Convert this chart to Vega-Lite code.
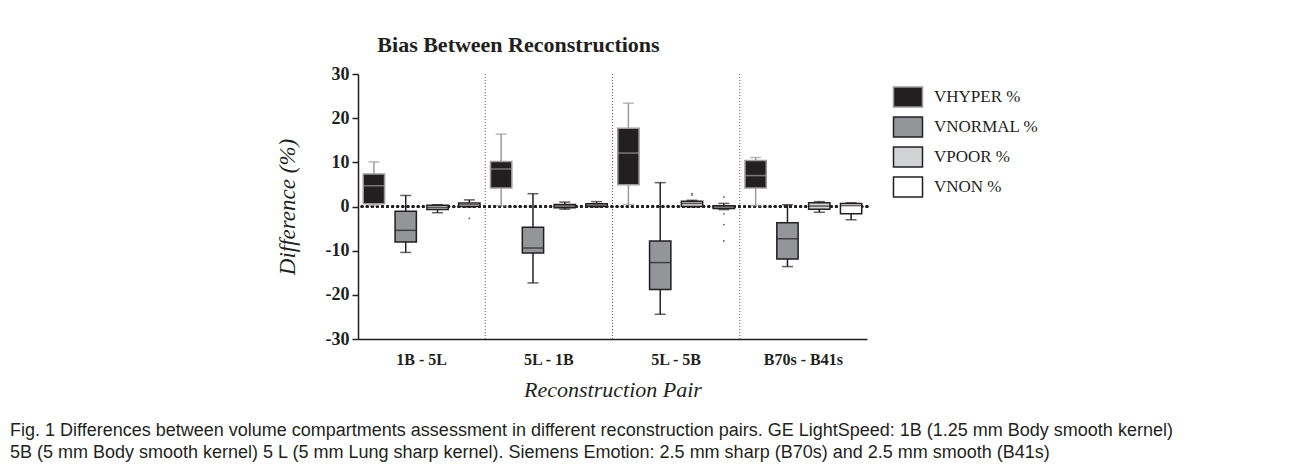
{
  "$schema": "https://vega.github.io/schema/vega-lite/v6.json",
  "background": "white",
  "padding": {"left": 10, "top": 34, "right": 5, "bottom": 5},
  "config": {
    "font": "Liberation Serif",
    "view": {"stroke": null},
    "axisX": {"domainColor": "#231f20", "domainWidth": 1.5, "ticks": false, "grid": false, "labelAngle": 0, "labelFont": "Liberation Serif", "labelFontWeight": "bold", "labelFontSize": 16, "labelColor": "#231f20", "labelPadding": 12, "titleFont": "Liberation Serif", "titleFontStyle": "italic", "titleFontWeight": "normal", "titleFontSize": 22, "titleColor": "#231f20", "titlePadding": 12},
    "axisY": {"domainColor": "#231f20", "domainWidth": 1.5, "tickColor": "#231f20", "tickWidth": 1.5, "tickSize": 6, "grid": false, "labelFont": "Liberation Serif", "labelFontWeight": "bold", "labelFontSize": 18, "labelColor": "#231f20", "labelPadding": 3, "titleFont": "Liberation Serif", "titleFontStyle": "italic", "titleFontWeight": "normal", "titleFontSize": 23, "titleColor": "#231f20", "titlePadding": 26}
  },
  "title": {
    "text": ["Fig. 1 Differences between volume compartments assessment in different reconstruction pairs. GE LightSpeed: 1B (1.25 mm Body smooth kernel)", "5B (5 mm Body smooth kernel) 5 L (5 mm Lung sharp kernel). Siemens Emotion: 2.5 mm sharp (B70s) and 2.5 mm smooth (B41s)"],
    "orient": "bottom", "anchor": "start", "dx": -266, "offset": 22,
    "font": "Liberation Sans", "fontSize": 18, "fontWeight": "normal", "lineHeight": 22, "color": "#231f20"
  },
  "datasets": {
    "boxes": [
      {"group": "1B - 5L", "comp": "HYPER", "kind": "HYPER", "min": 0.3, "q1": 0.6, "median": 4.7, "q3": 7.35, "max": 10.1},
      {"group": "1B - 5L", "comp": "NORMAL", "kind": "NORMAL", "min": -10.4, "q1": -8.05, "median": -5.4, "q3": -1.05, "max": 2.5},
      {"group": "1B - 5L", "comp": "POOR", "kind": "POOR", "min": -1.4, "q1": -0.7, "median": -0.2, "q3": 0.3, "max": 0.4},
      {"group": "1B - 5L", "comp": "NON", "kind": "NON", "min": -0.1, "q1": 0.0, "median": 0.4, "q3": 0.77, "max": 1.5},
      {"group": "5L - 1B", "comp": "HYPER", "kind": "HYPER", "min": 0.2, "q1": 4.2, "median": 8.5, "q3": 10.2, "max": 16.4},
      {"group": "5L - 1B", "comp": "NORMAL", "kind": "NORMAL", "min": -17.3, "q1": -10.5, "median": -9.4, "q3": -4.7, "max": 2.9},
      {"group": "5L - 1B", "comp": "POOR", "kind": "POOR", "min": -0.6, "q1": -0.3, "median": 0.1, "q3": 0.45, "max": 1.0},
      {"group": "5L - 1B", "comp": "NON", "kind": "NON", "min": -0.1, "q1": 0.0, "median": 0.3, "q3": 0.6, "max": 1.1},
      {"group": "5L - 5B", "comp": "HYPER", "kind": "HYPER", "min": 0.45, "q1": 4.9, "median": 12.1, "q3": 17.7, "max": 23.4},
      {"group": "5L - 5B", "comp": "NORMAL", "kind": "NORMAL", "min": -24.4, "q1": -18.8, "median": -12.7, "q3": -7.8, "max": 5.4},
      {"group": "5L - 5B", "comp": "POOR", "kind": "POOR", "min": -0.1, "q1": 0.0, "median": 0.7, "q3": 1.2, "max": 1.4},
      {"group": "5L - 5B", "comp": "NON", "kind": "NON", "min": -0.7, "q1": -0.45, "median": -0.1, "q3": 0.15, "max": 0.7},
      {"group": "B70s - B41s", "comp": "HYPER", "kind": "HYPER", "min": 0.2, "q1": 4.2, "median": 7.0, "q3": 10.4, "max": 11.1},
      {"group": "B70s - B41s", "comp": "NORMAL", "kind": "NORMAL", "min": -13.6, "q1": -11.9, "median": -7.3, "q3": -3.7, "max": 0.4},
      {"group": "B70s - B41s", "comp": "POOR", "kind": "POOR", "min": -1.3, "q1": -0.6, "median": 0.1, "q3": 0.85, "max": 1.1},
      {"group": "B70s - B41s", "comp": "NON", "kind": "NON", "min": -3.0, "q1": -1.65, "median": 0.2, "q3": 0.7, "max": 0.85}
    ],
    "outliers": [
      {"group": "1B - 5L", "comp": "NON", "value": -2.7},
      {"group": "5L - 5B", "comp": "POOR", "value": 2.6},
      {"group": "5L - 5B", "comp": "POOR", "value": 2.9},
      {"group": "5L - 5B", "comp": "NON", "value": 2.1},
      {"group": "5L - 5B", "comp": "NON", "value": -1.65},
      {"group": "5L - 5B", "comp": "NON", "value": -4.1},
      {"group": "5L - 5B", "comp": "NON", "value": -7.8}
    ],
    "separators": [
      {"group": "5L - 1B"},
      {"group": "5L - 5B"},
      {"group": "B70s - B41s"}
    ]
  },
  "vconcat": [
    {
      "width": 509,
      "height": 265,
      "title": {"text": "Bias Between Reconstructions", "font": "Liberation Serif", "fontSize": 22, "fontWeight": "bold", "color": "#231f20", "offset": 8, "anchor": "middle", "frame": "group", "dx": -94},
      "layer": [
        {
          "data": {"name": "separators"},
          "mark": {"type": "rule", "strokeDash": [1, 2], "strokeWidth": 1, "color": "#555555"},
          "encoding": {
            "x": {"field": "group", "type": "nominal", "bandPosition": 0, "title": "Reconstruction Pair", "scale": {"domain": ["1B - 5L", "5L - 1B", "5L - 5B", "B70s - B41s"], "paddingInner": 0, "paddingOuter": 0}}
          }
        },
        {
          "data": {"name": "separators"},
          "mark": {"type": "rule", "strokeDash": [0.1, 5], "strokeWidth": 3, "strokeCap": "round", "color": "#231f20"},
          "encoding": {"y": {"datum": 0, "type": "quantitative", "title": "Difference (%)"}}
        },
        {
          "data": {"name": "boxes"},
          "mark": {"type": "rule", "strokeWidth": 1.5},
          "encoding": {
            "x": {"field": "group", "type": "nominal", "title": "Reconstruction Pair"},
            "xOffset": {"field": "comp", "type": "nominal", "scale": {"domain": ["HYPER", "NORMAL", "POOR", "NON"], "paddingInner": 0.33, "paddingOuter": 0.165}},
            "y": {"field": "min", "type": "quantitative", "title": "Difference (%)"},
            "y2": {"field": "max"},
            "color": {"field": "kind", "type": "nominal", "legend": null, "scale": {"range": ["#9b9b9b", "#231f20", "#231f20", "#231f20"]}}
          }
        },
        {
          "data": {"name": "boxes"},
          "mark": {"type": "tick", "size": 11, "thickness": 1.5},
          "encoding": {
            "x": {"field": "group", "type": "nominal", "title": "Reconstruction Pair"},
            "xOffset": {"field": "comp", "type": "nominal"},
            "y": {"field": "min", "type": "quantitative", "title": "Difference (%)"},
            "color": {"field": "kind", "type": "nominal", "legend": null}
          }
        },
        {
          "data": {"name": "boxes"},
          "mark": {"type": "tick", "size": 11, "thickness": 1.5},
          "encoding": {
            "x": {"field": "group", "type": "nominal", "title": "Reconstruction Pair"},
            "xOffset": {"field": "comp", "type": "nominal"},
            "y": {"field": "max", "type": "quantitative", "title": "Difference (%)"},
            "color": {"field": "kind", "type": "nominal", "legend": null}
          }
        },
        {
          "data": {"name": "boxes"},
          "mark": {"type": "bar", "strokeWidth": 1.5},
          "encoding": {
            "x": {"field": "group", "type": "nominal", "title": "Reconstruction Pair"},
            "xOffset": {"field": "comp", "type": "nominal"},
            "y": {"field": "q1", "type": "quantitative", "title": "Difference (%)", "scale": {"domain": [-30, 30], "nice": false}, "axis": {"values": [-30, -20, -10, 0, 10, 20, 30], "labelExpr": "datum.value < 0 ? '-' + abs(datum.value) : '' + datum.value"}},
            "y2": {"field": "q3"},
            "fill": {"field": "comp", "type": "nominal", "scale": {"domain": ["HYPER", "NORMAL", "POOR", "NON"], "range": ["#231f20", "#939598", "#d1d3d4", "#ffffff"]}, "legend": {"title": null, "orient": "right", "offset": 16, "padding": 12, "symbolType": "M-1.45,-1L1.45,-1L1.45,1L-1.45,1Z", "symbolSize": 400, "symbolStrokeWidth": 1.5, "rowPadding": 4, "labelFont": "Liberation Serif", "labelFontSize": 17, "labelColor": "#231f20", "labelOffset": 15, "labelExpr": "'V' + datum.label + ' %'"}},
            "stroke": {"field": "comp", "type": "nominal", "scale": {"domain": ["HYPER", "NORMAL", "POOR", "NON"], "range": ["#9b9b9b", "#231f20", "#231f20", "#231f20"]}, "legend": {"title": null, "orient": "right", "offset": 16, "padding": 12, "symbolType": "M-1.45,-1L1.45,-1L1.45,1L-1.45,1Z", "symbolSize": 400, "symbolStrokeWidth": 1.5, "rowPadding": 4, "labelFont": "Liberation Serif", "labelFontSize": 17, "labelColor": "#231f20", "labelOffset": 15, "labelExpr": "'V' + datum.label + ' %'"}}
          }
        },
        {
          "data": {"name": "boxes"},
          "mark": {"type": "tick", "size": 21, "thickness": 1.5},
          "encoding": {
            "x": {"field": "group", "type": "nominal", "title": "Reconstruction Pair"},
            "xOffset": {"field": "comp", "type": "nominal"},
            "y": {"field": "median", "type": "quantitative", "title": "Difference (%)"},
            "color": {"field": "kind", "type": "nominal", "legend": null}
          }
        },
        {
          "data": {"name": "outliers"},
          "mark": {"type": "point", "filled": true, "size": 3, "color": "#555555", "opacity": 1},
          "encoding": {
            "x": {"field": "group", "type": "nominal", "title": "Reconstruction Pair"},
            "xOffset": {"field": "comp", "type": "nominal"},
            "y": {"field": "value", "type": "quantitative", "title": "Difference (%)"}
          }
        }
      ]
    }
  ]
}
